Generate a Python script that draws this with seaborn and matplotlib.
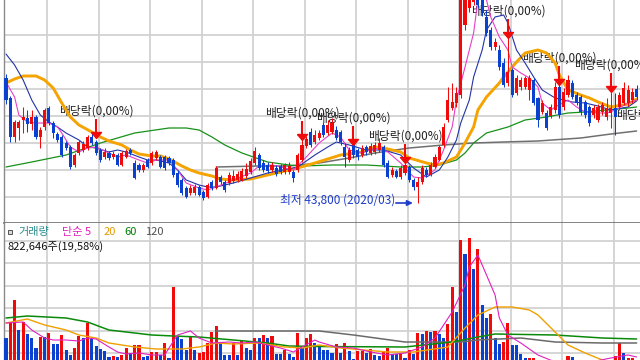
import numpy as np
import pandas as pd
import matplotlib
matplotlib.use("Agg")
import matplotlib.pyplot as plt
from matplotlib.patches import Rectangle
import seaborn as sns

# ---------------- data (daily candles, KRW) ----------------
opens = [68800, 64800, 57000, 58800, 60400, 60800, 59600, 61000, 57000, 59000,
         62800, 59800, 57600, 57000, 55800, 55000, 51400, 53800, 54400, 54800,
         57000, 56000, 54400, 53000, 53800, 53000, 53400, 51400, 53000, 54400,
         51800, 51400, 50400, 52400, 51800, 52800, 53000, 53000, 52800, 52400,
         49800, 48400, 46800, 45800, 45800, 47000, 46000, 45000, 48000, 46800,
         49000, 48000, 47800, 48200, 48400, 48400, 49200, 50000, 51800, 53400,
         51800, 51400, 50400, 50800, 51200, 50000, 50000, 50000, 50400, 52400,
         55200, 58000, 56000, 56800, 59400, 57800, 58000, 58400, 58000, 55000,
         52400, 55400, 54400, 53400, 55000, 53800, 54000, 54400, 55000, 51800,
         49400, 50200, 49000, 49800, 51000, 48400, 47000, 48000, 50400, 49400,
         51000, 52400, 55400, 60400, 62800, 63800, 65400, 79400, 82800, 84000,
         87400, 84400, 81000, 78400, 75000, 74400, 71800, 67800, 70400, 65800,
         67000, 67000, 66400, 68400, 64800, 62000, 61800, 61200, 62400, 67000,
         63000, 65400, 67800, 65400, 65000, 64000, 63000, 61400, 60400, 62000,
         61000, 61800, 62800, 63000, 63800, 63800, 64400, 66600]
closes = [64400, 57000, 60000, 60000, 61000, 59600, 61000, 57000, 58400, 62400,
          59800, 57800, 56400, 53400, 54800, 51000, 53400, 56000, 55600, 57000,
          55800, 53800, 52400, 54000, 52800, 53600, 51400, 53800, 54200, 53800,
          48800, 50400, 51400, 51000, 53800, 54000, 51000, 50800, 51800, 49400,
          47400, 45800, 45000, 46800, 47000, 45400, 44800, 47400, 46800, 50800,
          48000, 46400, 49400, 49200, 49600, 50200, 50600, 52200, 54200, 50800,
          50400, 50200, 51400, 49600, 50000, 51400, 51200, 48800, 53400, 55400,
          56600, 55400, 57400, 57800, 57400, 59400, 59800, 56800, 56000, 53000,
          54400, 53400, 53000, 54800, 54000, 55200, 55400, 55800, 51400, 49000,
          50400, 49000, 50800, 51400, 48400, 47000, 48000, 50800, 49400, 51400,
          53000, 55000, 59000, 64400, 64000, 65800, 85400, 87400, 89400, 88400,
          83400, 81800, 77800, 75000, 76000, 71000, 67400, 70000, 65400, 68800,
          68400, 68800, 68800, 63800, 60400, 63800, 58800, 63000, 67000, 61400,
          66000, 68400, 65000, 63800, 62000, 61400, 59800, 62800, 63000, 63400,
          62800, 62800, 61000, 65400, 66800, 66400, 66000, 65000]
highs = [69600, 65200, 60400, 60400, 63000, 62400, 62400, 61400, 59000, 62800,
         63200, 60200, 58000, 57400, 56200, 55400, 53800, 56400, 56200, 57400,
         58000, 56400, 54800, 54800, 54200, 54200, 53800, 54200, 54600, 54800,
         52400, 51800, 51800, 52800, 54200, 54400, 53400, 53400, 53200, 52800,
         50400, 48800, 47200, 47400, 47600, 47400, 46400, 47800, 48400, 51200,
         49400, 48400, 50000, 50400, 50200, 50800, 51800, 52800, 55000, 53800,
         52400, 52000, 52000, 51400, 51600, 51800, 52000, 50400, 53800, 56400,
         57200, 58800, 58400, 58400, 60000, 60400, 60800, 59200, 58400, 55800,
         55000, 55800, 54800, 55400, 55400, 55800, 56000, 56800, 55400, 52400,
         51000, 50600, 51400, 52000, 51400, 48800, 49000, 51400, 51000, 52000,
         53600, 55400, 59800, 67000, 67800, 67000, 86400, 89400, 91400, 90400,
         90400, 86000, 82400, 79000, 76800, 75400, 72800, 76800, 70800, 69400,
         69000, 69200, 69400, 68800, 65000, 64400, 62400, 63600, 68000, 67800,
         66800, 69400, 68400, 66000, 65400, 64400, 63400, 63400, 63600, 64000,
         64800, 69000, 65800, 66000, 68000, 67400, 66800, 67400]
lows = [63600, 56000, 56000, 56400, 57800, 58000, 58400, 56600, 54800, 58400,
        59400, 56800, 56000, 53000, 54400, 50600, 51000, 53400, 54000, 54400,
        55400, 53400, 52000, 52600, 52400, 52600, 51200, 51200, 52800, 53400,
        48600, 50000, 50000, 50800, 51400, 52400, 50800, 50400, 51400, 49000,
        47000, 45400, 44800, 45400, 45400, 45200, 44400, 44800, 46400, 46600,
        47600, 46000, 47400, 47800, 48000, 48200, 48800, 49600, 51400, 50400,
        50000, 49800, 50000, 49200, 49600, 49600, 49600, 48000, 50000, 52000,
        54800, 55000, 55600, 56400, 57000, 57400, 57600, 56400, 55400, 51000,
        52000, 52800, 52400, 53000, 53400, 53400, 53600, 54000, 51000, 48800,
        49000, 48800, 48600, 49400, 48000, 46400, 43800, 47600, 49000, 49200,
        50800, 52200, 55000, 60000, 62400, 63000, 64800, 78400, 82000, 83400,
        82800, 81200, 77200, 74400, 74400, 70400, 67000, 67200, 65000, 65400,
        66400, 66600, 64400, 63400, 59000, 61600, 58400, 60800, 61800, 60800,
        62400, 65000, 64600, 63400, 61400, 60800, 59200, 60800, 60000, 61400,
        60400, 58800, 57400, 62400, 63400, 63200, 63800, 64400]
# volume in thousands of shares
volume_k = [8200, 11400, 15800, 9800, 11400, 9000, 8200, 6200, 8400, 8400,
            9200, 7000, 7000, 8800, 5800, 4800, 6200, 8600, 8200, 11200,
            8000, 6600, 6000, 5600, 4400, 4600, 4400, 4800, 6200, 5200,
            6800, 6800, 4400, 4600, 5400, 5400, 4800, 7200, 4200, 18400,
            8400, 8000, 5800, 8400, 5800, 5200, 5400, 7200, 9400, 10600,
            7200, 4800, 4800, 7200, 4800, 7800, 6200, 5800, 8200, 8200,
            8800, 8200, 8600, 5000, 5000, 5800, 5000, 4400, 9200, 6200,
            8200, 9000, 7200, 6400, 5800, 5800, 5200, 7000, 5200, 7200,
            5600, 4000, 5600, 5600, 5200, 6000, 4800, 4600, 5600, 6200,
            5000, 5000, 5200, 4200, 5800, 5000, 9200, 9000, 9600, 9400,
            9600, 9000, 8200, 11000, 18400, 13400, 27800, 25000, 28200, 22000,
            26000, 14800, 12200, 13000, 8200, 7000, 7400, 11200, 6800, 6800,
            5000, 4200, 4200, 4200, 3600, 3400, 3600, 3800, 3600, 3400,
            3600, 4600, 4400, 3600, 3400, 3600, 3600, 3400, 3600, 3600,
            3400, 3800, 4600, 7200, 5200, 4200, 4201.5, 822.646]
# volume bar colour: 1 = up day (red), 0 = down day (blue)
vol_up = [0, 1, 1, 0, 1, 0, 0, 0, 1, 0, 1, 0, 0, 1, 0, 0, 1, 1, 0, 1,
          0, 0, 0, 0, 0, 1, 0, 1, 1, 0, 1, 1, 0, 0, 1, 1, 0, 1, 0, 1,
          0, 0, 0, 1, 0, 1, 1, 1, 1, 1, 0, 0, 0, 1, 0, 1, 0, 0, 1, 0,
          1, 0, 1, 0, 0, 1, 0, 0, 1, 0, 1, 1, 0, 0, 0, 0, 0, 1, 0, 1,
          0, 0, 1, 1, 0, 1, 0, 0, 1, 1, 0, 0, 1, 0, 1, 0, 1, 0, 1, 0,
          1, 0, 0, 1, 1, 0, 1, 0, 1, 0, 1, 0, 0, 1, 0, 0, 1, 1, 0, 0,
          0, 0, 1, 1, 0, 1, 0, 1, 1, 0, 1, 1, 0, 0, 0, 0, 0, 1, 1, 1,
          1, 1, 1, 1, 0, 1, 1, 0]

# price moving averages (read at selected candles)
ma5_idx = [0, 2, 3, 5, 7, 10, 12, 13, 15, 17, 19, 21, 24, 26, 28, 31, 33, 35, 38, 40,
           42, 45, 47, 49, 53, 57, 59, 62, 67, 70, 73, 76, 78, 80, 83, 86, 89, 92, 95, 97,
           100, 101, 102, 104, 105, 107, 109, 110, 111, 112, 113, 115, 117, 118, 120, 122, 124, 125, 127, 128,
           131, 133, 135, 138, 140, 142, 145, 147]
ma5_val = [68000, 65000, 61400, 60000, 59800, 59800, 59000, 57800, 55000, 54000,
           54800, 55000, 53800, 53000, 53400, 52400, 51800, 52400, 52400, 50400,
           47800, 46800, 46400, 47000, 48400, 49800, 51200, 51400, 50400, 53000,
           55800, 57800, 57000, 54400, 53800, 54800, 54000, 51800, 49000, 48800,
           50400, 52400, 54400, 59000, 64400, 71000, 77800, 84400, 86800, 84400,
           81000, 77000, 74400, 71000, 69800, 68800, 67000, 63800, 62400, 63000,
           64400, 63000, 62000, 61800, 61800, 62400, 63800, 64400]
ma10_idx = [0, 2, 4, 6, 8, 10, 12, 14, 17, 19, 21, 24, 26, 28, 31, 33, 35, 38, 40, 42,
            45, 47, 49, 53, 61, 68, 72, 75, 77, 80, 84, 88, 92, 95, 98, 101, 103, 105, 106, 108,
            109, 111, 112, 114, 116, 117, 119, 121, 123, 125, 128, 130, 132, 135, 138, 141, 145, 147]
ma10_val = [73600, 71400, 68400, 64400, 61400, 60000, 59000, 57800, 56400, 55000,
            54800, 54000, 54400, 54000, 53000, 52400, 52400, 51800, 50400, 48400,
            47400, 47000, 47000, 47800, 49800, 51000, 53400, 55000, 56000, 55400,
            54400, 54400, 53400, 50800, 49000, 50400, 53000, 56400, 59800, 64400,
            69000, 74400, 78400, 81000, 81400, 79800, 74400, 71800, 69000, 66400,
            64800, 64400, 64000, 63800, 63200, 62400, 63000, 64200]
ma20_idx = [0, 2, 4, 7, 9, 11, 13, 15, 17, 20, 22, 24, 27, 29, 31, 34, 36, 38, 41, 43,
            45, 48, 50, 53, 57, 60, 64, 68, 72, 78, 83, 86, 88, 92, 94, 98, 100, 102, 105, 107,
            109, 110, 112, 115, 116, 119, 121, 124, 126, 128, 129, 131, 134, 136, 138, 141, 145, 147]
ma20_val = [67800, 68600, 69200, 69200, 68400, 66800, 63800, 61000, 59400, 58000,
            57000, 56200, 55400, 54400, 53600, 53200, 53200, 52600, 51200, 50400,
            49800, 49200, 48600, 48400, 48600, 49200, 50000, 50800, 51800, 53400,
            54000, 55000, 54800, 54000, 52800, 51800, 51400, 51800, 53000, 55800,
            59000, 62400, 65000, 67800, 69000, 72000, 73800, 74400, 73800, 71800,
            69400, 66400, 65400, 64800, 64000, 63000, 63600, 64600]
ma60_idx = [0, 6, 14, 22, 30, 38, 42, 45, 48, 51, 55, 61, 66, 69, 76, 84, 92, 97, 101, 105,
            107, 109, 112, 117, 121, 126, 131, 135, 140, 145, 147]
ma60_val = [51000, 52000, 53400, 55800, 57800, 58800, 58800, 58400, 57000, 55400,
            53800, 52000, 51400, 51200, 51400, 51400, 51000, 51000, 51400, 52400,
            53800, 55800, 57800, 59000, 60400, 61000, 61800, 62000, 62400, 62800, 63000]
ma120_idx = [49, 59, 66, 73, 80, 86, 94, 102, 109, 116, 124, 134, 141, 147]
ma120_val = [51000, 51200, 51200, 51800, 52800, 53800, 54800, 55400, 55800, 56000,
             56200, 56800, 57600, 58200]

# volume moving averages (thousands of shares)
vma5_idx = [0, 4, 6, 9, 11, 14, 17, 19, 21, 24, 26, 28, 31, 34, 37, 38, 40, 43, 45, 48,
            52, 55, 58, 61, 64, 67, 69, 72, 73, 77, 81, 85, 89, 93, 97, 100, 104, 107, 108, 110,
            112, 114, 115, 117, 120, 124, 128, 134, 141, 145, 147]
vma5_val = [11200, 11400, 9800, 8200, 7800, 7800, 7600, 8200, 8000, 6400,
            5400, 5000, 5200, 4800, 4800, 6200, 8800, 9600, 8200, 7200,
            7400, 7200, 7400, 6800, 6200, 5400, 6400, 7800, 7400, 6400,
            6200, 5400, 4800, 5200, 6400, 8200, 13400, 18800, 22400, 24800,
            20800, 16800, 12200, 8800, 7200, 4800, 3400, 3000, 4200, 4800, 4400]
vma20_idx = [0, 5, 9, 14, 17, 21, 24, 30, 35, 41, 45, 49, 53, 59, 65, 69, 73, 78, 89, 95,
             103, 107, 110, 114, 118, 122, 124, 128, 131, 135, 139, 147]
vma20_val = [11200, 12000, 10800, 9800, 8800, 8200, 7200, 6400, 6000, 6000,
             6400, 7200, 7000, 7200, 6400, 6200, 6800, 6200, 5400, 5400,
             6400, 10200, 12800, 14400, 14400, 13800, 12800, 9400, 6800, 5200, 3800, 2800]
vma60_idx = [0, 5, 14, 19, 24, 30, 34, 39, 45, 53, 61, 66, 73, 93, 104, 110, 114, 128, 139, 147]
vma60_val = [12200, 12600, 12200, 11400, 9800, 9200, 8800, 8600, 8400, 7800,
             7200, 6600, 6500, 6400, 7400, 8400, 9000, 8800, 8200, 8000]
vma120_idx = [49, 73, 81, 93, 106, 110, 120, 128, 139, 147]
vma120_val = [9600, 9600, 8800, 7400, 7400, 7800, 8200, 7400, 7200, 7200]

# ex-dividend markers (candle index, arrow-tip price)
div_idx = [21, 69, 81, 93, 117, 129, 141, 151]
div_tip = [56800, 56400, 55400, 51800, 76800, 67400, 66000, 56000]
div_text = "배당락(0,00%)"
low_label = "최저 43,800 (2020/03)"

# ---------------- style ----------------
sns.set_theme(style="white")
plt.rcParams["font.family"] = ["Noto Sans CJK KR", "DejaVu Sans"]
plt.rcParams["axes.unicode_minus"] = False

RED = "#f00a0a"
BLUE = "#0a42cf"
GRID = "#d2d2d2"

W, H = 640, 360
fig = plt.figure(figsize=(6.4, 3.6), dpi=100)
fig.patch.set_facecolor("white")

SP = 4.29        # px per candle
X0 = 6           # px of first candle
LEFT, RIGHT, SEP = 4, 640, 223

ax = fig.add_axes([LEFT / W, 1 - SEP / H, (RIGHT - LEFT) / W, SEP / H])
axv = fig.add_axes([LEFT / W, 0, (RIGHT - LEFT) / W, (H - SEP) / H])

xlim = ((LEFT - X0) / SP, (RIGHT - X0) / SP)
grid_x = [9.67 + 12 * k for k in range(12)]

df = pd.DataFrame({"open": opens, "high": highs, "low": lows, "close": closes,
                   "volume": volume_k, "vol_up": vol_up})
df["idx"] = np.arange(len(df))
up = df["close"] >= df["open"]
ccol = np.where(up, RED, BLUE)

for a in (ax, axv):
    a.set_facecolor("white")
    a.set_xlim(*xlim)
    a.set_xticks(grid_x)
    a.tick_params(length=0, labelleft=False, labelbottom=False)
    a.grid(True, color=GRID, lw=1.3)
    a.set_axisbelow(True)
    for s in ("top", "right", "bottom"):
        a.spines[s].set_visible(False)
    a.spines["left"].set_color("#8a8a8a")
    a.spines["left"].set_linewidth(1.0)
ax.spines["bottom"].set_visible(True)
ax.spines["bottom"].set_color("#6e6e6e")
ax.spines["bottom"].set_linewidth(1.2)

# ---------------- price panel ----------------
ax.set_ylim(39800, 84400)
ax.set_yticks([45000, 50400, 55800, 61200, 66600, 72000, 77400])

for idx_, val_, col, lw in [(ma120_idx, ma120_val, "#707070", 1.1),
                            (ma60_idx, ma60_val, "#17911a", 0.9),
                            (ma20_idx, ma20_val, "#f5a300", 2.1),
                            (ma10_idx, ma10_val, "#2234a8", 0.8),
                            (ma5_idx, ma5_val, "#e83ec8", 0.8)]:
    sns.lineplot(x=idx_, y=val_, ax=ax, color=col, lw=lw, estimator=None,
                 sort=False, zorder=2.5)

ax.vlines(df["idx"], df["low"], df["high"], colors=ccol, lw=0.75, zorder=3)
body_bottom = np.minimum(df["open"], df["close"])
body_h = np.maximum((df["close"] - df["open"]).abs(), 200)
ax.bar(df["idx"], body_h, bottom=body_bottom, width=0.72, color=ccol, lw=0, zorder=4)

tri = [(-5, 3), (5, 3), (0, -3), (-5, 3)]
for i, tip in zip(div_idx, div_tip):
    ax.text(i, tip + 5400, div_text, ha="center", va="center", fontsize=8.5,
            color="#222222", zorder=2, clip_on=False)
    ax.vlines(i, tip + 1200, tip + 3800, color=RED, lw=1.5, zorder=6)
    ax.plot([i], [tip + 600], marker=tri, ms=7.2, color=RED, ls="none", zorder=6)

low_i = int(np.argmin(df["low"]))
low_v = df["low"].min()
ax.annotate("", xy=(low_i - 5 / SP, low_v), xytext=(-17, 0),
            textcoords="offset pixels",
            arrowprops=dict(arrowstyle="-|>", color="#1e3cc8", lw=1.2,
                            mutation_scale=8, shrinkA=0, shrinkB=0), zorder=6)
ax.annotate(low_label, xy=(low_i - 5 / SP, low_v), xytext=(-18, 3),
            textcoords="offset pixels", ha="right", va="center",
            fontsize=8.5, color="#1e3cc8", zorder=6)

# ---------------- volume panel ----------------
axv.set_ylim(3800, 31200)
axv.set_yticks([5200, 9700, 14200, 18700, 23200, 27700])
vcol = np.where(df["vol_up"] == 1, RED, BLUE)
axv.bar(df["idx"], df["volume"], width=0.72, color=vcol, lw=0, zorder=3)
for idx_, val_, col, lw in [(vma120_idx, vma120_val, "#6a6a6a", 1.1),
                            (vma60_idx, vma60_val, "#0a8a0a", 1.1),
                            (vma20_idx, vma20_val, "#f0a000", 1.0),
                            (vma5_idx, vma5_val, "#e020c0", 0.8)]:
    sns.lineplot(x=idx_, y=val_, ax=axv, color=col, lw=lw, estimator=None,
                 sort=False, zorder=4)

for a in (ax, axv):
    a.set_xlabel("")
    a.set_ylabel("")


def px(x, y):
    return x / W, 1 - y / H


fig.patches.append(Rectangle(px(8, 234), 4 / W, 4 / H, transform=fig.transFigure,
                             fc="#d8d8d8", ec="#555555", lw=0.7))
for x, t, c in [(18, "거래량", "#2a8c8c"), (62, "단순 5", "#e020c0"),
                (104, "20", "#e89a00"), (124, "60", "#008000"), (145, "120", "#505050")]:
    fig.text(*px(x, 232), t, color=c, fontsize=8, ha="left", va="center")

last_v = volume_k[-1] * 1000
ratio = volume_k[-1] / volume_k[-2] * 100
vol_txt = f"{last_v:,.0f}주({ratio:.2f}%)".replace(".", ",")
fig.text(*px(8, 247), vol_txt, color="#111111", fontsize=8, ha="left", va="center")

fig.savefig("out.png", dpi=100, facecolor="white")
